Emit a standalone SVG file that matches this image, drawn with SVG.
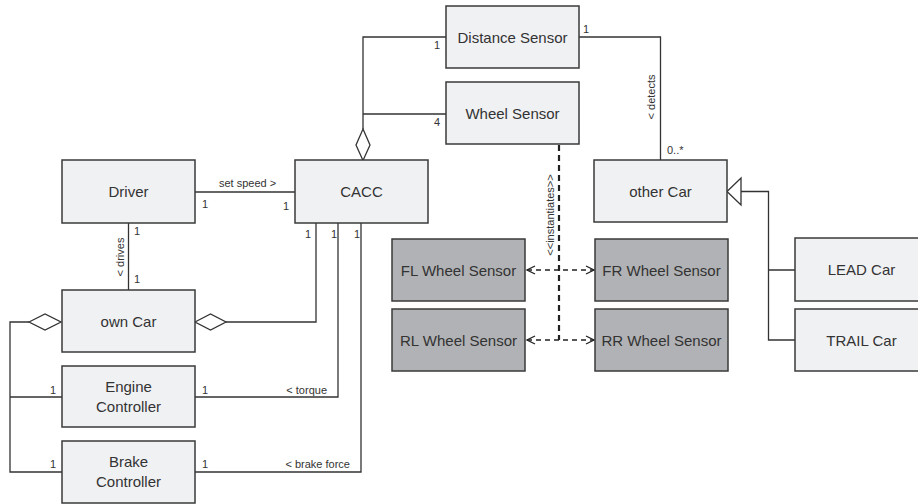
<svg xmlns="http://www.w3.org/2000/svg" width="918" height="504" viewBox="0 0 918 504">
<style>
.box{fill:#f0f1f3;stroke:#3a3a3a;stroke-width:1.5}
.gbox{fill:#b1b2b5;stroke:#3a3a3a;stroke-width:1.5}
.t{font-family:"Liberation Sans",Arial,sans-serif;font-size:15px;fill:#333;text-anchor:middle}
.s{font-family:"Liberation Sans",Arial,sans-serif;font-size:11px;fill:#333}
.ln{fill:none;stroke:#333;stroke-width:1.3}
.dia{fill:#fff;stroke:#333;stroke-width:1.3}
.dash{fill:none;stroke:#222;stroke-width:1.3;stroke-dasharray:5,4}
.dashb{fill:none;stroke:#222;stroke-width:2.2;stroke-dasharray:6,4}
</style>
<defs>
<marker id="open" markerWidth="10" markerHeight="10" refX="9" refY="5" orient="auto-start-reverse" markerUnits="userSpaceOnUse">
<path d="M1,1 L9,5 L1,9" fill="none" stroke="#222" stroke-width="1.3"/>
</marker>
</defs>
<rect width="918" height="504" fill="#fff"/>
<g id="connectors">
<!-- Driver - CACC -->
<path class="ln" d="M195,192 H295"/>
<text class="s" x="219" y="187">set speed &gt;</text>
<text class="s" x="202" y="208">1</text>
<text class="s" x="283" y="210">1</text>
<!-- Driver - own Car -->
<path class="ln" d="M128.5,223 V290"/>
<text class="s" x="134" y="235">1</text>
<text class="s" x="134" y="283">1</text>
<text class="s" transform="translate(124,257) rotate(-90)" text-anchor="middle">&lt; drives</text>
<!-- CACC - own Car aggregation -->
<path class="ln" d="M226,322 H316 V223"/>
<path class="dia" d="M195,322 L210.5,314 L226,322 L210.5,330 Z"/>
<text class="s" x="305" y="238">1</text>
<!-- CACC - Engine -->
<path class="ln" d="M195,397 H338 V223"/>
<text class="s" x="331" y="238">1</text>
<text class="s" x="202" y="394">1</text>
<text class="s" x="327" y="394" text-anchor="end">&lt; torque</text>
<!-- CACC - Brake -->
<path class="ln" d="M195,472 H361 V223"/>
<text class="s" x="354" y="238">1</text>
<text class="s" x="202" y="468">1</text>
<text class="s" x="350" y="468" text-anchor="end">&lt; brake force</text>
<!-- own Car composition left -->
<path class="ln" d="M29,322 H10 V472 H62 M10,397 H62"/>
<path class="dia" d="M29,322 L45,314 L61,322 L45,330 Z"/>
<text class="s" x="50" y="394">1</text>
<text class="s" x="50" y="468">1</text>
<!-- CACC - sensors aggregation -->
<path class="ln" d="M446,37 H363 V129 M446,114 H363"/>
<path class="dia" d="M363,129 L370,145 L363,160.5 L356,145 Z"/>
<text class="s" x="434" y="49">1</text>
<text class="s" x="434" y="126">4</text>
<!-- Distance Sensor - other Car -->
<path class="ln" d="M579,37 H660.5 V160"/>
<text class="s" x="583" y="33">1</text>
<text class="s" x="667" y="154">0..*</text>
<text class="s" transform="translate(655,97) rotate(-90)" text-anchor="middle">&lt; detects</text>
<!-- Generalization -->
<path class="ln" d="M741,191.5 H768.5 V340 H795 M768.5,270 H795"/>
<path class="dia" d="M727,191.5 L741,178 L741,205 Z"/>
<!-- instantiates -->
<path class="dashb" d="M559,145 V340"/>
<text class="s" transform="translate(554,215) rotate(-90)" text-anchor="middle">&lt;&lt;instantiates&gt;&gt;</text>
<path class="dash" d="M527,270 H594" marker-start="url(#open)" marker-end="url(#open)"/>
<path class="dash" d="M527,340 H594" marker-start="url(#open)" marker-end="url(#open)"/>
</g>
<g id="driver"><rect class="box" x="62" y="160" width="133" height="63"/><text class="t" x="128.5" y="197">Driver</text></g>
<g id="cacc"><rect class="box" x="295" y="160" width="133" height="63"/><text class="t" x="361.5" y="197">CACC</text></g>
<g id="owncar"><rect class="box" x="62" y="290" width="133" height="62"/><text class="t" x="128.5" y="327">own Car</text></g>
<g id="engine"><rect class="box" x="62" y="366" width="133" height="61"/><text class="t" x="128.5" y="392">Engine</text><text class="t" x="128.5" y="412">Controller</text></g>
<g id="brake"><rect class="box" x="62" y="441" width="133" height="62"/><text class="t" x="128.5" y="467">Brake</text><text class="t" x="128.5" y="487">Controller</text></g>
<g id="distance"><rect class="box" x="446" y="6" width="133" height="62"/><text class="t" x="512.5" y="43">Distance Sensor</text></g>
<g id="wheel"><rect class="box" x="446" y="82" width="133" height="62"/><text class="t" x="512.5" y="119">Wheel Sensor</text></g>
<g id="othercar"><rect class="box" x="594" y="160" width="133" height="62"/><text class="t" x="660.5" y="197">other Car</text></g>
<g id="fl"><rect class="gbox" x="392" y="239" width="133" height="62"/><text class="t" x="458.5" y="276">FL Wheel Sensor</text></g>
<g id="rl"><rect class="gbox" x="392" y="309" width="133" height="62"/><text class="t" x="458.5" y="346">RL Wheel Sensor</text></g>
<g id="fr"><rect class="gbox" x="595" y="239" width="133" height="62"/><text class="t" x="661.5" y="276">FR Wheel Sensor</text></g>
<g id="rr"><rect class="gbox" x="595" y="309" width="133" height="62"/><text class="t" x="661.5" y="346">RR Wheel Sensor</text></g>
<g id="lead"><rect class="box" x="795" y="238" width="133" height="63"/><text class="t" x="861.5" y="275">LEAD Car</text></g>
<g id="trail"><rect class="box" x="795" y="309" width="133" height="62"/><text class="t" x="861.5" y="346">TRAIL Car</text></g>
</svg>
